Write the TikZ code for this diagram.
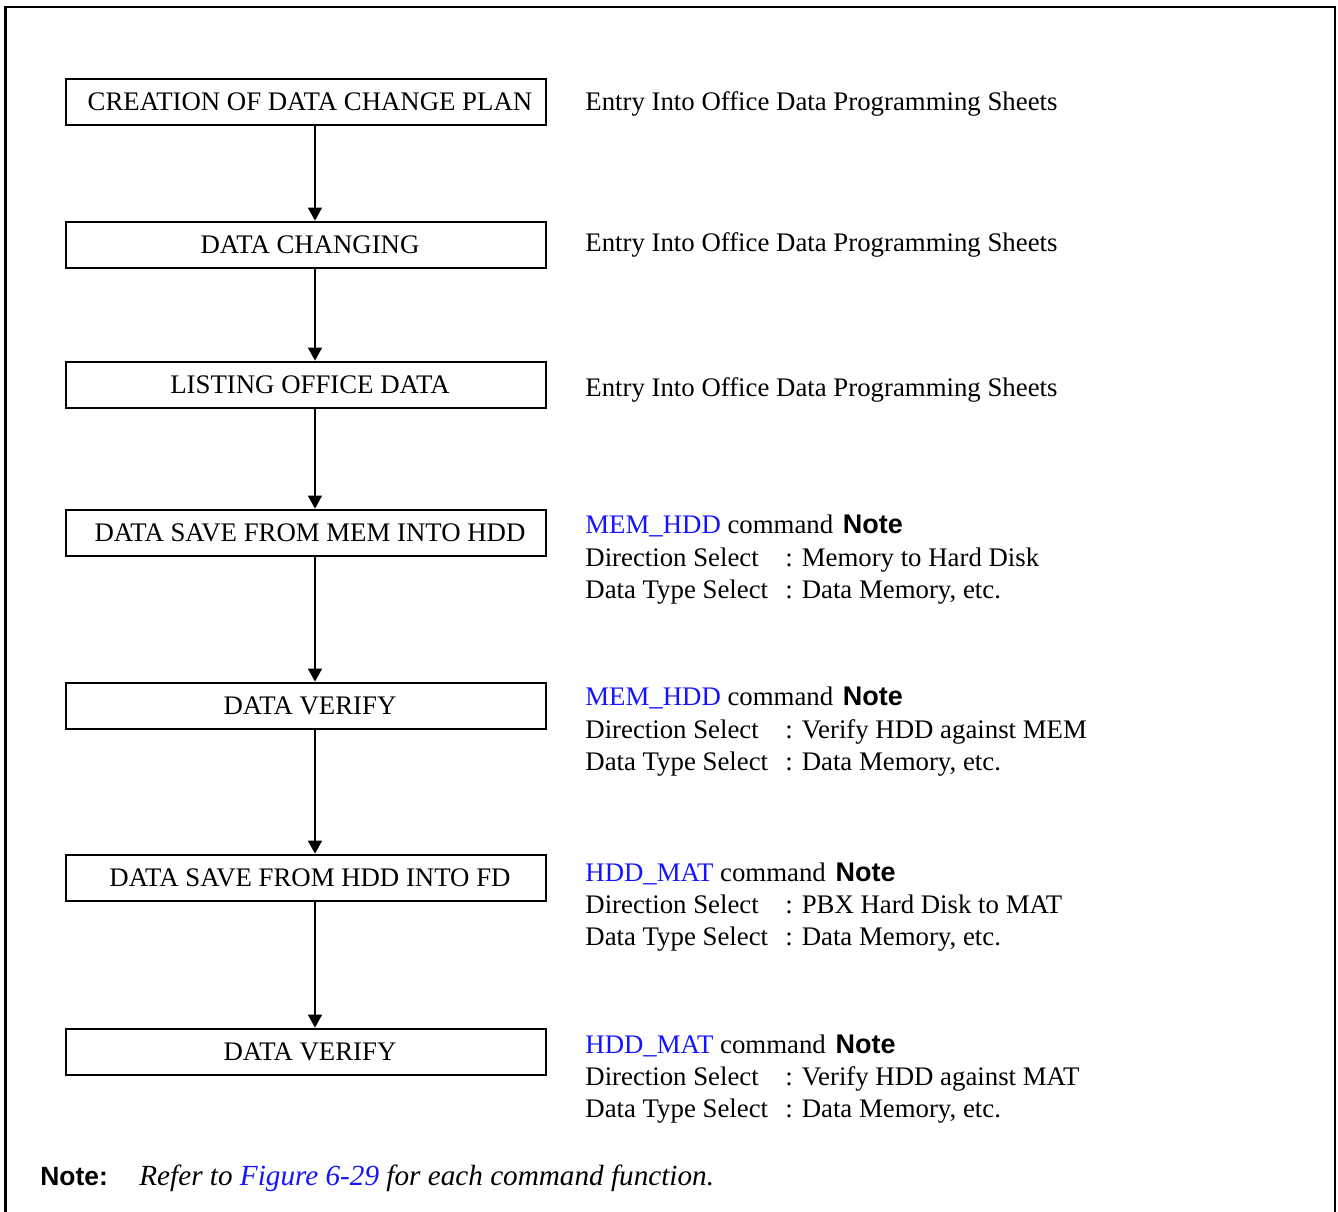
\documentclass[tikz,border=0pt]{standalone}
\usepackage{fontspec}
\setmainfont{Liberation Serif}
\newfontfamily\arialfont{Liberation Sans}
\usetikzlibrary{arrows.meta}
\definecolor{linkblue}{RGB}{20,20,255}
\tikzset{
  stepbox/.style={draw, line width=1.4pt, minimum width=240pt, minimum height=23pt, inner sep=0pt, font=\fontsize{13.4pt}{15pt}\selectfont},
  txt/.style={anchor=base west, inner sep=0pt, font=\fontsize{13.4pt}{15pt}\selectfont},
  flow/.style={line width=0.8pt, -{Triangle[length=6.5pt,width=7pt]}},
  frame/.style={line width=1.1pt}
}
\newcommand{\notebf}{\hspace{1.5pt}{\arialfont\bfseries\fontsize{13.5pt}{15pt}\selectfont Note}}
\begin{document}
\begin{tikzpicture}[x=0.5pt,y=-0.5pt]
\useasboundingbox (0,0) rectangle (1338,1211);
\draw[frame] (5.5,1215) -- (5.5,7) -- (1335,7) -- (1335,1215);

\coordinate (ax) at (315,0);

\node[stepbox] (b1) at (306,102) {\hspace*{4pt}CREATION OF DATA CHANGE PLAN};
\node[stepbox] (b2) at (306,245) {\hspace*{4pt}DATA CHANGING};
\node[stepbox] (b3) at (306,385) {\hspace*{4pt}LISTING OFFICE DATA};
\node[stepbox] (b4) at (306,533) {\hspace*{4pt}DATA SAVE FROM MEM INTO HDD};
\node[stepbox] (b5) at (306,706) {\hspace*{4pt}DATA VERIFY};
\node[stepbox] (b6) at (306,878) {\hspace*{4pt}DATA SAVE FROM HDD INTO FD};
\node[stepbox] (b7) at (306,1052) {\hspace*{4pt}DATA VERIFY};

\draw[flow] (b1.south -| ax) -- (b2.north -| ax);
\draw[flow] (b2.south -| ax) -- (b3.north -| ax);
\draw[flow] (b3.south -| ax) -- (b4.north -| ax);
\draw[flow] (b4.south -| ax) -- (b5.north -| ax);
\draw[flow] (b5.south -| ax) -- (b6.north -| ax);
\draw[flow] (b6.south -| ax) -- (b7.north -| ax);

\node[txt] (e1) at (585,110) {Entry Into Office Data Programming Sheets};
\node[txt] (e2) at (585,251) {Entry Into Office Data Programming Sheets};
\node[txt] (e3) at (585,396) {Entry Into Office Data Programming Sheets};

% block 4
\node[txt] (c4) at (585,533) {\textcolor{linkblue}{MEM\_HDD} command \notebf};
\node[txt] (d4) at (585,566) {Direction Select};
\node[txt] (d4v) at (785,566) {: Memory to Hard Disk};
\node[txt] (t4) at (585,598) {Data Type Select};
\node[txt] (t4v) at (785,598) {: Data Memory, etc.};
% block 5
\node[txt] (c5) at (585,705) {\textcolor{linkblue}{MEM\_HDD} command \notebf};
\node[txt] (d5) at (585,738) {Direction Select};
\node[txt] (d5v) at (785,738) {: Verify HDD against MEM};
\node[txt] (t5) at (585,770) {Data Type Select};
\node[txt] (t5v) at (785,770) {: Data Memory, etc.};
% block 6
\node[txt] (c6) at (585,881) {\textcolor{linkblue}{HDD\_MAT} command \notebf};
\node[txt] (d6) at (585,913) {Direction Select};
\node[txt] (d6v) at (785,913) {: PBX Hard Disk to MAT};
\node[txt] (t6) at (585,945) {Data Type Select};
\node[txt] (t6v) at (785,945) {: Data Memory, etc.};
% block 7
\node[txt] (c7) at (585,1053) {\textcolor{linkblue}{HDD\_MAT} command \notebf};
\node[txt] (d7) at (585,1085) {Direction Select};
\node[txt] (d7v) at (785,1085) {: Verify HDD against MAT};
\node[txt] (t7) at (585,1117) {Data Type Select};
\node[txt] (t7v) at (785,1117) {: Data Memory, etc.};

\node[txt, font=\arialfont\bfseries\fontsize{13.2pt}{15pt}\selectfont] (nl) at (40,1185) {Note:};
\node[txt, font=\itshape\fontsize{14.6pt}{16pt}\selectfont] (nt) at (139,1185) {Refer to \textcolor{linkblue}{Figure 6-29} for each command function.};
\end{tikzpicture}
\end{document}
